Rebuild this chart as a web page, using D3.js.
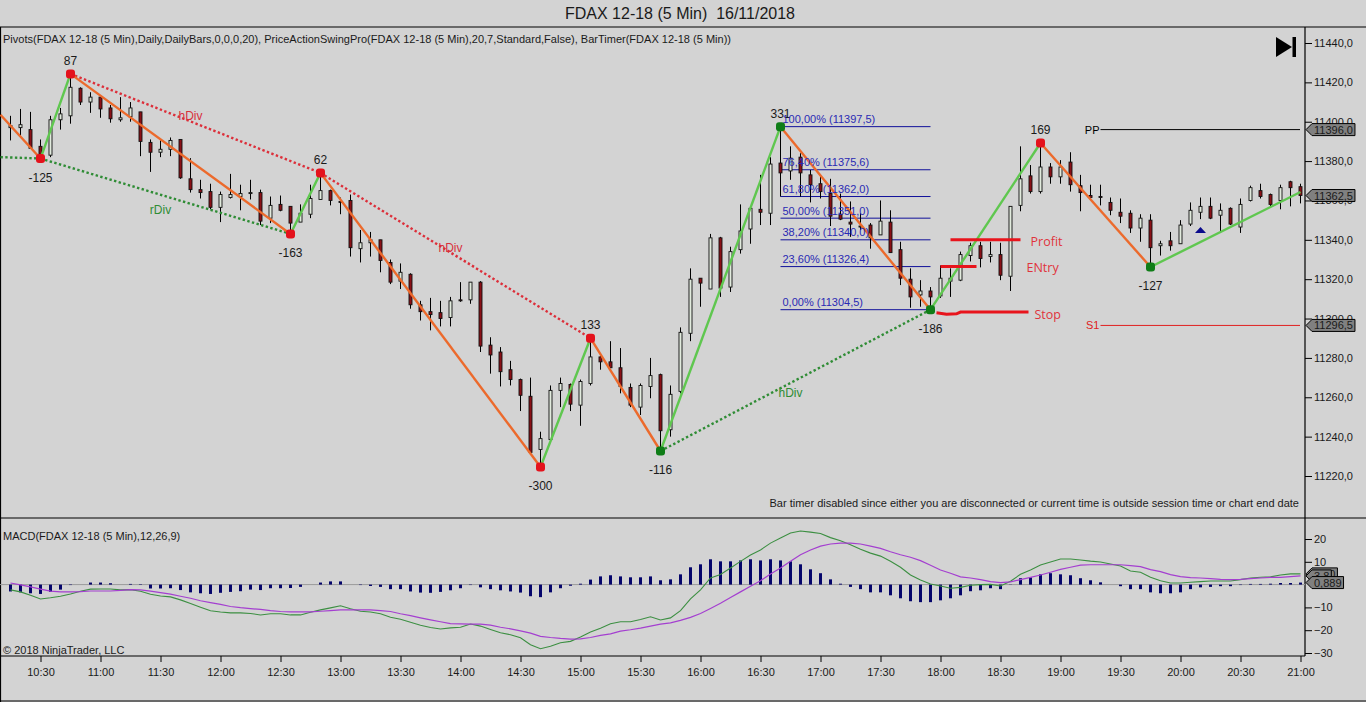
<!DOCTYPE html>
<html>
<head>
<meta charset="utf-8">
<script src="https://cdn.jsdelivr.net/npm/d3@7"></script>
<style>
  html, body { margin: 0; padding: 0; background: #d3d3d3; overflow: hidden; }
  svg { display: block; }
  text { font-family: "Liberation Sans", Arial, sans-serif; font-size: 11px; fill: #1a1a1a; }
</style>
</head>
<body>
<svg width="1366" height="702"></svg>
<script>
var opens = [
  11397,11397,11396,11387.5,11383,11401,11403,11417,11410,11412.5,
  11407,11401,11402.5,11405,11389.5,11384.5,11386,11391,11371,11365.5,
  11364.5,11356.5,11361.5,11362,11363.5,11364,11351,11358,11357,11349,
  11353,11360.5,11365,11359.5,11360,11335.5,11338.5,11340,11328.5,11319,
  11322.5,11307,11303.5,11303,11300.5,11309.5,11309.5,11318.5,11286.5,11283,
  11274,11269,11260.5,11233.5,11238.5,11263.5,11266.5,11256,11267,11280.5,
  11278,11275,11265,11255,11265.5,11271.5,11243.5,11263,11292.5,11320.5,
  11315,11341,11316,11335,11345.5,11355.5,11353.5,11379,11375,11382,
  11373,11368.5,11363.5,11353,11349,11346.5,11347.5,11342.5,11349,11335,
  11320,11312,11314,11311.5,11319,11319.5,11332,11337,11331.5,11332.5,
  11321.5,11357.5,11372.5,11364.5,11377,11372,11379.5,11367.5,11362.5,11362,
  11359,11354,11353.5,11346,11350,11337,11339.5,11338,11348,11354,
  11357,11352.5,11356,11346.5,11360,11365,11363,11360,11369.5,11367
];
var closes = [
  11398,11398.5,11386.5,11382,11401,11404,11417.5,11410,11412.5,11406.5,
  11401.5,11402,11407,11390,11384.5,11386,11390.5,11371.5,11365.5,11364,
  11356.5,11363,11363,11363.5,11364,11349.5,11357.5,11355,11348.5,11353.5,
  11361,11365,11360,11359,11336,11338.5,11340,11329.5,11318.5,11323.5,
  11307,11303.5,11302,11300,11309,11309,11318.5,11286,11281.5,11273,
  11269,11261,11232,11239,11263.5,11267,11256.5,11268,11280.5,11278,
  11275,11265.5,11256,11266,11271,11243,11261.5,11293,11320,11318,
  11341,11315.5,11334,11344.5,11356,11354,11378.5,11374,11381.5,11374,
  11368,11364.5,11352,11350.5,11348,11347,11341,11349.5,11333.5,11320.5,
  11311,11314,11311,11320.5,11320.5,11332.5,11337,11330.5,11332.5,11322,
  11357,11371,11364.5,11377,11372,11377,11368,11364,11361.5,11361.5,
  11355,11352,11346,11351,11336,11338,11337,11347.5,11355,11357,
  11351,11355,11348,11358,11366.5,11362,11358,11366.5,11366.5,11362.5
];
var highs = [
  11403,11406.5,11405,11391,11403,11407,11423.5,11417.5,11415,11412.5,
  11408.5,11412.5,11410,11405,11391,11390.5,11392,11391,11381.5,11370.5,
  11368.5,11364.5,11373.5,11368,11370.5,11365.5,11362,11362.5,11357,11358,
  11368,11374,11365.5,11361.5,11363,11345,11344,11340,11330,11328,
  11323,11309,11310.5,11309,11311,11318.5,11318.5,11319,11290.5,11285.5,
  11278.5,11269.5,11270,11242.5,11266,11270,11267,11269,11290,11281,
  11288.5,11285,11267,11267,11280,11272,11266,11295.5,11325.5,11320.5,
  11343,11341.5,11336.5,11358,11356.5,11373,11382,11398,11387.5,11384,
  11375.5,11373,11371,11363.5,11359.5,11353.5,11348.5,11360,11355,11339,
  11325.5,11319.5,11316,11327,11325.5,11334,11338.5,11339,11339,11338.5,
  11357,11387.5,11378,11389.5,11379,11380.5,11384.5,11373,11368,11368,
  11361.5,11361,11355,11353,11353,11339.5,11344,11350,11359,11361.5,
  11361.5,11358.5,11356.5,11361,11367.5,11368.5,11363.5,11368,11370,11368.5
];
var lows = [
  11390.5,11393,11386.5,11380.5,11382,11396,11399,11408.5,11404.5,11402,
  11399.5,11400,11400,11382.5,11374.5,11382,11382.5,11371,11364,11361,
  11355.5,11349,11361,11355,11360.5,11347.5,11348.5,11354.5,11343.5,11349,
  11351,11360.5,11357.5,11353,11331.5,11328.5,11331.5,11323.5,11317.5,11315,
  11305,11299,11294,11296,11296,11308.5,11307.5,11283,11272,11265.5,
  11266,11253,11232,11224,11237.5,11255,11253,11245.5,11266,11274,
  11275,11262,11255,11251,11259.5,11233,11240,11262,11288.5,11306,
  11315,11311,11313.5,11333,11338,11347.5,11347.5,11362,11370.5,11362,
  11359,11361,11347,11350,11341.5,11345,11335.5,11342.5,11333.5,11317,
  11305.5,11306,11306,11310.5,11311,11319,11329,11326,11328.5,11319.5,
  11314,11354.5,11363.5,11363.5,11368.5,11368.5,11364.5,11354.5,11360.5,11357.5,
  11352.5,11348.5,11343.5,11339,11326.5,11332,11334.5,11338,11347,11350.5,
  11350.5,11343.5,11347.5,11343.5,11359.5,11361,11356.5,11355.5,11357,11358.5
];

var macdLine = [
  -2.3,-3.2,-4.7,-6.3,-5.8,-5.1,-4.1,-2.9,-2.0,-1.9,
  -1.9,-2.3,-2.2,-2.9,-4.2,-5.0,-5.4,-6.7,-8.3,-9.9,
  -11.5,-12.0,-12.4,-12.4,-12.7,-13.3,-12.8,-12.8,-13.3,-13.3,
  -12.1,-11.1,-10.2,-9.3,-10.6,-11.7,-12,-12.8,-14.3,-15.2,
  -16.5,-17.8,-18.8,-19.5,-19,-18.7,-17.3,-18.2,-19.7,-21.1,
  -22,-23.3,-26.4,-28.1,-27,-25.5,-24.9,-23,-20.8,-19.1,
  -17.2,-16.3,-16.3,-15.3,-14.1,-15.5,-14.6,-11.4,-6.3,-2.3,
  2.9,4.4,7.3,10.2,13,15.2,18.2,20.4,22.6,23.5,
  23,22.4,20.6,19.2,17.5,15.5,13.8,12.5,10.2,7.6,
  4.2,2,.3,-.6,-1.6,-1.2,-.3,0,.1,-.6,
  1.5,4.5,6.4,8.6,9.9,11.2,11.2,10.8,10.3,9.9,
  9,8.2,6,5.4,3.2,1.7,.7,.7,1,1.3,
  1.6,1.6,1.6,2.2,2.9,3.2,3.4,4.2,4.7,4.7
];
var macdAvg = [
  .7,-.1,-1,-2,-2.9,-3.2,-3.2,-3.1,-2.8,-2.8,
  -2.8,-2.5,-2.2,-2.3,-2.9,-3.5,-4.2,-5.1,-6,-7.1,
  -7.9,-8.7,-9.6,-10.1,-10.5,-10.9,-11.4,-11.8,-12,-12,
  -12,-11.7,-11.4,-11.1,-11.1,-11.1,-11.1,-11.4,-11.8,-12.8,
  -13.6,-14.6,-15.5,-16.3,-17.1,-17.2,-17.3,-17.3,-17.8,-18.7,
  -19.4,-20.3,-21.3,-22.7,-23.2,-23.6,-23.9,-23.8,-23.2,-22.3,
  -21.6,-20.4,-19.8,-19.1,-18.2,-17.3,-16.8,-15.7,-14.4,-12.7,
  -10.5,-8.2,-5.7,-3.2,-.7,1.7,4.7,7.3,10.2,13.1,
  15.2,16.9,17.8,18.2,18.2,17.8,16.9,15.9,14.4,13.1,
  12,10.5,8.5,6.4,5,3.4,2.9,2.2,1.3,.9,
  1.2,2.2,3.2,4.2,5.4,6.7,7.6,8.5,8.7,8.7,
  8.7,8.7,8.3,7.9,6.6,5.7,4.4,3.5,3.1,2.9,
  2.6,2.3,2.2,2.3,2.6,2.9,3.2,3.2,3.5,3.8
];
var macdDiff = [
  -3,-3.4,-3.8,-4.1,-3.2,-2.2,-.2,0,.9,.9,
  .6,0,.3,.2,-1.7,-1.7,-1.6,-2.4,-3.4,-3.8,
  -4.1,-3.6,-3.2,-2.9,-2.2,-2.4,-1.6,-1.6,-1.5,-1,
  0,.9,1.4,1.4,0,-.2,-.6,-1,-2,-2,
  -3,-3.5,-3.6,-3.2,-2.5,-1.6,-.2,-1.2,-2,-2.5,
  -3,-3.5,-5.1,-5.5,-3.4,-1.6,-.5,.4,2.2,3.6,
  4.1,3.6,3.2,3.2,3.6,1.9,2.3,4.5,7.6,8.9,
  11.1,10.2,10.2,10.6,11.1,10.6,11.1,10.6,10.2,8.9,
  6.7,5,2.3,.4,-1,-2,-3.4,-3.4,-4.7,-6,
  -7.3,-7.7,-7.7,-6.9,-6,-4.7,-2.9,-2.5,-1.6,-2,
  -.1,2.8,3.2,4.5,5,4.5,4.1,2.8,1.9,1,
  0,-.7,-2,-2,-3.4,-3.8,-3.8,-3.4,-2,-1.2,
  -1,-.7,-.7,-.2,.3,.3,.4,.7,.7,.889
];

// swing pivots
var pivotTimes = ["10:10","10:30","10:45","12:35","12:50","14:40","15:05","15:40","16:40","17:55","18:50","19:45","21:00"];
var pivotPrices = [11403.5,11381.3,11424.3,11343,11374,11224.6,11290,11232.7,11397.5,11304.5,11389.2,11326.2,11364.3];
var pivotLabels = ["","-125","87","-163","62","-300","133","-116","331","-186","169","-127",""];
var pivotColors = ["","red","red","red","red","red","red","green","green","green","red","green",""];

var fibPercents = ["100,00%","76,40%","61,80%","50,00%","38,20%","23,60%","0,00%"];
var fibPrices = [11397.5,11375.6,11362.0,11351.0,11340.0,11326.4,11304.5];

var priceTicks = d3.range(11220, 11441, 20);
var macdTicks = [20,10,-10,-20,-30];

var parseTime = d3.timeParse("%H:%M");
var firstBar = parseTime("10:15");
var barTimes = opens.map(function(d, i) { return d3.timeMinute.offset(firstBar, i * 5); });
var timeTicks = d3.timeMinute.range(parseTime("10:30"), parseTime("21:01"), 30);

var svg = d3.select("svg");

var x = d3.scaleTime().domain([parseTime("10:10"), parseTime("21:00")]).range([0.5, 1300.5]);
var y = d3.scaleLinear().domain([11220, 11440]).range([476, 43]);
var yM = d3.scaleLinear().domain([-30, 20]).range([653, 539]);

function comma(v, n) { return d3.format("." + n + "f")(v).replace(".", ","); }

var red = "#e4121c", green = "#0f7d17";

// title and frame
svg.append("text").attr("x", 680).attr("y", 19).attr("text-anchor", "middle")
  .style("font-size", "16px").style("white-space", "pre").text("FDAX 12-18 (5 Min)  16/11/2018");

[[0,27,1366,27],[0,518,1366,518],[0,656,1305,656],[0,701,1366,701],[0.5,27,0.5,702],[1305,27,1305,656]].forEach(function(l) {
  svg.append("line").attr("x1", l[0]).attr("y1", l[1]).attr("x2", l[2]).attr("y2", l[3])
    .attr("stroke", "#000").attr("stroke-width", 1.2);
});

// axes
var yAxis = svg.append("g").attr("transform", "translate(1305,0)")
  .call(d3.axisRight(y).tickValues(priceTicks).tickSize(7).tickPadding(2).tickFormat(function(d) { return comma(d, 1); }));
var mAxis = svg.append("g").attr("transform", "translate(1305,0)")
  .call(d3.axisRight(yM).tickValues(macdTicks).tickSize(7).tickPadding(2));
var xAxis = svg.append("g").attr("transform", "translate(0,656)")
  .call(d3.axisBottom(x).tickValues(timeTicks).tickSize(6).tickPadding(6).tickFormat(d3.timeFormat("%H:%M")));
[yAxis, mAxis, xAxis].forEach(function(a) {
  a.select(".domain").remove();
  a.attr("font-family", null).attr("font-size", null);
  a.selectAll("line").attr("stroke", "#000");
  a.selectAll("text").attr("fill", "#1a1a1a");
});

// pivot levels
[[11396, "PP", "#000"], [11296.5, "S1", "#e02020"]].forEach(function(p) {
  svg.append("line").attr("x1", x(parseTime("19:20"))).attr("x2", 1300)
    .attr("y1", y(p[0])).attr("y2", y(p[0])).attr("stroke", p[2]).attr("stroke-width", 1);
  svg.append("text").attr("x", x(parseTime("19:20")) - 1).attr("y", y(p[0]) + 4).attr("text-anchor", "end")
    .style("fill", p[2]).text(p[1]);
});

// fibonacci
var fibStart = parseTime("16:40"), fibEnd = parseTime("17:55");
svg.selectAll(".fib").data(fibPrices).enter().append("line").attr("class", "fib")
  .attr("x1", x(fibStart)).attr("x2", x(fibEnd))
  .attr("y1", function(d) { return y(d); }).attr("y2", function(d) { return y(d); })
  .attr("stroke", "#10109a").attr("stroke-width", 1);

// candles
var candles = svg.append("g").selectAll("g").data(barTimes).enter().append("g");
candles.append("line")
  .attr("x1", function(d) { return x(d); }).attr("x2", function(d) { return x(d); })
  .attr("y1", function(d, i) { return y(highs[i]); }).attr("y2", function(d, i) { return y(lows[i]); })
  .attr("stroke", "#000").attr("stroke-width", 1);
candles.append("rect")
  .attr("x", function(d) { return x(d) - 1.5; }).attr("width", 3)
  .attr("y", function(d, i) { return y(Math.max(opens[i], closes[i])); })
  .attr("height", function(d, i) { return Math.max(1, Math.abs(y(opens[i]) - y(closes[i]))); })
  .attr("fill", function(d, i) { return closes[i] < opens[i] ? "#8b1016" : "#e2ebde"; })
  .attr("stroke", "#111").attr("stroke-width", 0.9);

// divergence lines
function divLine(a, b, color) {
  svg.append("line")
    .attr("x1", x(parseTime(pivotTimes[a]))).attr("y1", y(pivotPrices[a]))
    .attr("x2", x(parseTime(pivotTimes[b]))).attr("y2", y(pivotPrices[b]))
    .attr("stroke", color).attr("stroke-width", 2.4).attr("stroke-dasharray", "2.4 2.4");
}
divLine(2, 4, "#dc2f3a");
divLine(4, 6, "#dc2f3a");
divLine(1, 3, "#2f8c35");
divLine(7, 9, "#2f8c35");
svg.append("line").attr("x1", x(parseTime("10:10"))).attr("y1", y(11382))
  .attr("x2", x(parseTime("10:30"))).attr("y2", y(11381.3))
  .attr("stroke", "#2f8c35").attr("stroke-width", 2.4).attr("stroke-dasharray", "2.4 2.4");

// swing lines
pivotTimes.slice(1).forEach(function(t, i) {
  svg.append("line")
    .attr("x1", x(parseTime(pivotTimes[i]))).attr("y1", y(pivotPrices[i]))
    .attr("x2", x(parseTime(t))).attr("y2", y(pivotPrices[i + 1]))
    .attr("stroke", pivotPrices[i + 1] < pivotPrices[i] ? "#ec6a2c" : "#5fc74f")
    .attr("stroke-width", 2.4);
});

svg.selectAll(".pivot").data(pivotTimes).enter()
  .filter(function(d, i) { return pivotColors[i] !== ""; })
  .append("rect").attr("class", "pivot")
  .attr("x", function(d) { return x(parseTime(d)) - 4.5; })
  .attr("y", function(d) { return y(pivotPrices[pivotTimes.indexOf(d)]) - 4.5; })
  .attr("width", 9).attr("height", 9).attr("rx", 3)
  .attr("fill", function(d) { return pivotColors[pivotTimes.indexOf(d)] === "red" ? red : green; });

svg.selectAll(".plabel").data(pivotTimes).enter()
  .filter(function(d, i) { return pivotLabels[i] !== ""; })
  .append("text").attr("class", "plabel")
  .attr("x", function(d) { return x(parseTime(d)); })
  .attr("y", function(d) {
    var i = pivotTimes.indexOf(d);
    return y(pivotPrices[i]) + (pivotLabels[i][0] === "-" ? 23 : -9);
  })
  .attr("text-anchor", "middle").style("font-size", "12px")
  .text(function(d) { return pivotLabels[pivotTimes.indexOf(d)]; });

svg.selectAll(".fibt").data(fibPrices).enter().append("text").attr("class", "fibt")
  .attr("x", x(fibStart) + 2).attr("y", function(d) { return y(d) - 3.5; })
  .style("fill", "#2a2ab4")
  .text(function(d, i) { return fibPercents[i] + " (" + comma(d, 1) + ")"; });

// divergence names
[["hDiv", "11:45", 11401, "#d8303c"], ["rDiv", "11:30", 11353, "#2f8c35"],
 ["hDiv", "13:55", 11334, "#d8303c"], ["hDiv", "16:45", 11260, "#2f8c35"]].forEach(function(n) {
  svg.append("text").attr("x", x(parseTime(n[1])))
    .attr("y", y(n[2])).attr("text-anchor", "middle").style("fill", n[3]).style("font-size", "12px").text(n[0]);
});

// hand drawn trade levels
var line = d3.line().x(function(d) { return x(parseTime(d[0])); }).y(function(d) { return y(d[1]); });
[[["18:05", 11340], ["18:40", 11340]],
 [["18:00", 11326.4], ["18:18", 11326.4]],
 [["17:58", 11302.9], ["18:03", 11302.2], ["18:08", 11302.4], ["18:10", 11303.3], ["18:44", 11303.3]]].forEach(function(l) {
  svg.append("path").attr("d", line(l)).attr("fill", "none").attr("stroke", "#e8141c").attr("stroke-width", 3);
});
[["Profit", "18:45", 11339.5], ["ENtry", "18:43", 11326], ["Stop", "18:47", 11302.5]].forEach(function(t) {
  svg.append("text").attr("x", x(parseTime(t[1]))).attr("y", y(t[2]) + 5)
    .style("font-family", "Open Sans").style("font-size", "12.5px").style("fill", "#e0343c").text(t[0]);
});

// pattern triangle
var tx = x(parseTime("20:10")), ty = y(11343.5);
svg.append("polygon").attr("points", [[tx - 5.5, ty], [tx + 5.5, ty], [tx, ty - 6]].join(" ")).attr("fill", "#0a0a8c");

// end of chart icon
svg.append("polygon").attr("points", "1276,37 1292,47 1276,57").attr("fill", "#000");
svg.append("rect").attr("x", 1292.5).attr("y", 37).attr("width", 3.5).attr("height", 20).attr("fill", "#000");

// macd panel
svg.append("line").attr("x1", 0).attr("x2", 1305).attr("y1", yM(0)).attr("y2", yM(0)).attr("stroke", "#9a9a9a");
svg.append("g").selectAll("rect").data(macdDiff).enter().append("rect")
  .attr("x", function(d, i) { return x(barTimes[i]) - 1.5; }).attr("width", 3)
  .attr("y", function(d) { return d > 0 ? yM(d) : yM(0); })
  .attr("height", function(d) { return Math.abs(yM(d) - yM(0)); })
  .attr("fill", "#05056b");
var mline = d3.line().x(function(d, i) { return x(barTimes[i]); }).y(function(d) { return yM(d); });
svg.append("path").attr("d", mline(macdLine)).attr("fill", "none").attr("stroke", "#3c8f42").attr("stroke-width", 1.1);
svg.append("path").attr("d", mline(macdAvg)).attr("fill", "none").attr("stroke", "#a43fd0").attr("stroke-width", 1.2);

// value flags on the axis
function flag(scale, v, label) {
  var g = svg.append("g").attr("transform", "translate(1306," + scale(v) + ")");
  var t = g.append("text").attr("x", 8).attr("y", 4).text(label);
  var w = t.node().getComputedTextLength() + 10;
  g.insert("polygon", "text").attr("points", [[0, 0], [6, -6], [w, -6], [w, 6], [6, 6]].join(" "))
    .attr("fill", "#808080").attr("stroke", "#000");
}
flag(y, 11396, comma(11396, 1));
flag(y, 11362.5, comma(11362.5, 1));
flag(y, 11296.5, comma(11296.5, 1));
flag(yM, 4.7, "4,70");
flag(yM, 3.8, "3,8");
flag(yM, 0.889, comma(0.889, 3));

// captions
svg.append("text").attr("x", 3).attr("y", 43).attr("textLength", 728)
  .text("Pivots(FDAX 12-18 (5 Min),Daily,DailyBars,0,0,0,20), PriceActionSwingPro(FDAX 12-18 (5 Min),20,7,Standard,False), BarTimer(FDAX 12-18 (5 Min))");
svg.append("text").attr("x", 1299).attr("y", 507).attr("text-anchor", "end")
  .text("Bar timer disabled since either you are disconnected or current time is outside session time or chart end date");
svg.append("text").attr("x", 3).attr("y", 540).text("MACD(FDAX 12-18 (5 Min),12,26,9)");
svg.append("text").attr("x", 3).attr("y", 654).text("© 2018 NinjaTrader, LLC");
</script>
</body>
</html>
